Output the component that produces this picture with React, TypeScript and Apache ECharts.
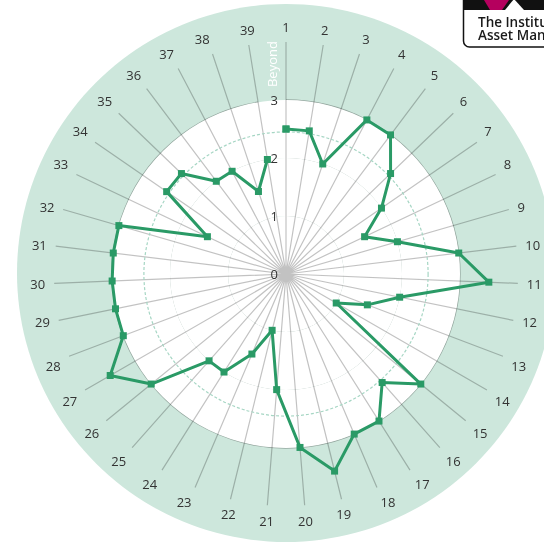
import { useEffect, useRef } from 'react';
import * as echarts from 'echarts';

const categories = ['1', '2', '3', '4', '5', '6', '7', '8', '9', '10', '11', '12', '13', '14', '15', '16', '17', '18', '19', '20', '21', '22', '23', '24', '25', '26', '27', '28', '29', '30', '31', '32', '33', '34', '35', '36', '37', '38', '39'];
const scores = [2.5, 2.5, 2, 3, 3, 2.5, 2, 1.5, 2, 3, 3.5, 2, 1.5, 1, 3, 2.5, 3, 3, 3.5, 3, 2, 1, 1.5, 2, 2, 3, 3.5, 3, 3, 3, 3, 3, 1.5, 2.5, 2.5, 2, 2, 1.5, 2];
const scaleMin = 0;
const scaleMax = 4;
const scaleStep = 1;
const benchmarkLevel = 2.45;
const beyondLevel = 3.62;
const beyondLabel = 'Beyond';
const logoText = 'The Institute of\nAsset Management';

const FONT = "'Open Sans', 'Noto Sans', sans-serif";

export default function App() {
  const ref = useRef<HTMLDivElement>(null);

  useEffect(() => {
    const chart = echarts.init(ref.current!, null, { renderer: 'svg' });
    const cx = 286;
    const cy = 274;
    const R = 232;
    const toR = (v: number) => ((v - scaleMin) / (scaleMax - scaleMin)) * R;

    const lineData: number[][] = scores.map((v, i) => [v, i]);
    lineData.push([scores[0], 0]);

    chart.setOption({
      animation: false,
      polar: { center: [cx, cy], radius: R },
      angleAxis: {
        type: 'category',
        data: categories,
        startAngle: 90,
        clockwise: true,
        boundaryGap: false,
        axisLine: { show: false },
        axisTick: { show: false, interval: 0 },
        axisLabel: { interval: 0, color: '#333', fontSize: 13, fontFamily: FONT, margin: 9 },
        splitLine: { show: true, interval: 0, lineStyle: { color: 'rgba(0,0,0,0.24)', width: 1.2 } },
      },
      radiusAxis: {
        type: 'value',
        min: scaleMin,
        max: scaleMax,
        interval: scaleStep,
        axisLine: { show: false },
        axisTick: { show: false },
        axisLabel: {
          color: '#333',
          fontSize: 13,
          fontFamily: FONT,
          formatter: (v: number) => (v < scaleMax ? String(v) : ''),
        },
        splitLine: {
          show: true,
          lineStyle: {
            color: ['rgba(0,0,0,0)', 'rgba(0,0,0,0.2)', 'rgba(0,0,0,0.2)', 'rgba(0,0,0,0.28)', 'rgba(0,0,0,0)'],
            width: 1.3,
          },
        },
        splitArea: { show: true, areaStyle: { color: ['#ffffff', '#ffffff', '#ffffff', 'rgba(0,0,0,0)'] } },
      },
      graphic: [
        {
          type: 'circle',
          z: -10,
          silent: true,
          shape: { cx, cy: cy - 1, r: 269 },
          style: { fill: '#cde7dc' },
        },
        {
          type: 'circle',
          z: 1,
          silent: true,
          shape: { cx, cy, r: toR(benchmarkLevel) },
          style: { fill: 'none', stroke: '#a6d6c4', lineWidth: 1.2, lineDash: [3, 2] },
        },
        {
          type: 'text',
          z: 5,
          silent: true,
          x: cx - 14,
          y: cy - toR(beyondLevel),
          rotation: Math.PI / 2,
          style: {
            text: beyondLabel,
            fill: '#ffffff',
            fontSize: 13,
            fontFamily: FONT,
            align: 'center',
            verticalAlign: 'middle',
          },
        },
        {
          type: 'group',
          z: 10,
          silent: true,
          children: [
            {
              type: 'rect',
              shape: { x: 463.5, y: -10, width: 100, height: 57, r: 6 },
              style: { fill: '#ffffff', stroke: '#111', lineWidth: 1.5 },
            },
            {
              type: 'rect',
              shape: { x: 463, y: -10, width: 100, height: 20 },
              style: { fill: '#111' },
            },
            {
              type: 'polygon',
              shape: { points: [[484, 0], [509, 0], [502, 10], [490, 10]] },
              style: { fill: '#b5005e' },
            },
            {
              type: 'polygon',
              shape: { points: [[505, 10], [524, 10], [514, -1]] },
              style: { fill: '#ffffff' },
            },
            {
              type: 'text',
              x: 478,
              y: 15,
              style: {
                text: logoText,
                fill: '#1a1a1a',
                fontSize: 13.5,
                lineHeight: 13,
                fontFamily: FONT,
                fontWeight: 600,
                verticalAlign: 'top',
              },
            },
          ],
        },
      ],
      series: [
        {
          type: 'line',
          coordinateSystem: 'polar',
          data: lineData,
          symbol: 'rect',
          symbolSize: 7,
          z: 3,
          lineStyle: { color: '#2a9a66', width: 3 },
          itemStyle: { color: '#2a9a66' },
        },
      ],
    });

    return () => chart.dispose();
  }, []);

  return <div ref={ref} style={{ position: 'fixed', left: 0, top: 0, width: 544, height: 545 }} />;
}
